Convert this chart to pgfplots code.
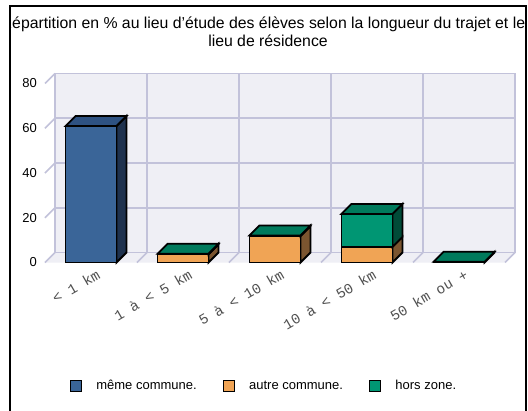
\documentclass[border=0pt]{standalone}
\usepackage{fontspec}
\setmainfont{Liberation Sans}
\newfontfamily\monofont{Liberation Mono}
\usepackage{pgfplots}
\pgfplotsset{compat=1.18}
\definecolor{blueF}{HTML}{3A6598}
\definecolor{blueT}{HTML}{2E5282}
\definecolor{blueS}{HTML}{1F324E}
\definecolor{orangeF}{HTML}{F0A455}
\definecolor{orangeS}{HTML}{7B5530}
\definecolor{greenF}{HTML}{009673}
\definecolor{greenT}{HTML}{007A5C}
\definecolor{greenS}{HTML}{004B38}
\definecolor{wall}{HTML}{EFEFF5}
\definecolor{gridc}{HTML}{C2C2DA}
\definecolor{labgray}{HTML}{505050}
\pgfplotsset{
  face/.style={draw=black, line width=1.8bp, forget plot, mark=none},
  gridl/.style={draw=gridc, line width=1.6bp, forget plot, mark=none, unbounded coords=jump},
}

\begin{document}
\begin{tikzpicture}
\useasboundingbox (0bp,0bp) rectangle (528bp,-411bp);
\fill[white] (0bp,0bp) rectangle (528bp,-411bp);
\begin{scope}
\clip (10.5bp,0bp) rectangle (525.3bp,-411bp);
\node[anchor=base, inner sep=0pt, font=\fontsize{15.8bp}{18bp}\selectfont] at (263bp,-28bp)
  {Répartition en \% au lieu d'étude des élèves selon la longueur du trajet et le};
\node[anchor=base, inner sep=0pt, font=\fontsize{15.8bp}{18bp}\selectfont] at (268bp,-46bp)
  {lieu de résidence};
\end{scope}
\draw[line width=2bp] (9.5bp,-411bp) -- (9.5bp,-5.7bp) -- (526.3bp,-5.7bp) -- (526.3bp,-411bp);

\begin{axis}[
  at={(45bp,-262.5bp)}, anchor=south west,
  scale only axis, width=470bp, height=189bp,
  xmin=-0.5, xmax=4.6087, ymin=0, ymax=84.469,
  clip=false,
  axis line style={draw=none},
  major tick length=0pt,
  xtick={0,1,2,3,4},
  xticklabels={< 1 km,1 à < 5 km,5 à < 10 km,10 à < 50 km,50 km ou +},
  ytick={0,20,40,60,80},
  /pgf/number format/assume math mode=true,
  yticklabel style={font=\fontsize{13bp}{15bp}\selectfont, anchor=east, inner sep=0pt, xshift=-8bp},
  xticklabel style={font=\monofont\fontsize{14.5bp}{16bp}\selectfont, text=labgray, inner sep=0pt,
    xshift=5bp, yshift=-6bp, rotate=30, anchor=north east},
  legend style={at={(0.466,-0.653)}, anchor=center, draw=none, fill=none,
    font=\fontsize{13bp}{15bp}\selectfont, legend columns=3,
    /tikz/every odd column/.append style={column sep=13bp},
    /tikz/every even column/.append style={column sep=24bp}},
  legend cell align=left,
  legend image code/.code={\fill[#1] (0bp,-5.5bp) rectangle (11bp,5.5bp);},
]
% back wall and floor
\addplot[forget plot, draw=none, fill=wall] coordinates {(-0.3913,4.469) (4.6087,4.469) (4.6087,84.469) (-0.3913,84.469)} -- cycle;
\addplot[forget plot, draw=none, fill=wall] coordinates {(-0.5,0) (4.5,0) (4.6087,4.469) (-0.3913,4.469)} -- cycle;
% grid on the back wall
\addplot[gridl] coordinates {
  (-0.3913,4.469) (4.6087,4.469) (0,nan)
  (-0.3913,24.469) (4.6087,24.469) (0,nan)
  (-0.3913,44.469) (4.6087,44.469) (0,nan)
  (-0.3913,64.469) (4.6087,64.469) (0,nan)
  (-0.3913,84.469) (4.6087,84.469) (0,nan)
  (-0.3913,4.469) (-0.3913,84.469) (0,nan)
  (0.6087,4.469) (0.6087,84.469) (0,nan)
  (1.6087,4.469) (1.6087,84.469) (0,nan)
  (2.6087,4.469) (2.6087,84.469) (0,nan)
  (3.6087,4.469) (3.6087,84.469) (0,nan)
  (4.6087,4.469) (4.6087,84.469)
};
% depth edges
\addplot[gridl] coordinates {
  (-0.5,0) (-0.3913,4.469) (0,nan)
  (-0.5,20) (-0.3913,24.469) (0,nan)
  (-0.5,40) (-0.3913,44.469) (0,nan)
  (-0.5,60) (-0.3913,64.469) (0,nan)
  (-0.5,80) (-0.3913,84.469) (0,nan)
  (0.5,0) (0.6087,4.469) (0,nan)
  (1.5,0) (1.6087,4.469) (0,nan)
  (2.5,0) (2.6087,4.469) (0,nan)
  (3.5,0) (3.6087,4.469) (0,nan)
  (4.5,0) (4.6087,4.469)
};
% < 1 km : même commune 61
\addplot[face, fill=blueS] coordinates {(0.277,0) (0.3857,4.469) (0.3857,65.469) (0.277,61)} -- cycle;
\addplot[face, fill=blueF] coordinates {(-0.277,0) (0.277,0) (0.277,61) (-0.277,61)} -- cycle;
\addplot[face, fill=blueT] coordinates {(-0.277,61) (0.277,61) (0.3857,65.469) (-0.1683,65.469)} -- cycle;
% 1 a < 5 km : autre commune 3.6, hors zone 0.3
\addplot[face, fill=orangeS] coordinates {(1.277,0) (1.3857,4.469) (1.3857,8.069) (1.277,3.6)} -- cycle;
\addplot[face, fill=orangeF] coordinates {(0.723,0) (1.277,0) (1.277,3.6) (0.723,3.6)} -- cycle;
\addplot[face, fill=greenS] coordinates {(1.277,3.6) (1.3857,8.069) (1.3857,8.369) (1.277,3.9)} -- cycle;
\addplot[face, fill=greenF] coordinates {(0.723,3.6) (1.277,3.6) (1.277,3.9) (0.723,3.9)} -- cycle;
\addplot[face, fill=greenT] coordinates {(0.723,3.9) (1.277,3.9) (1.3857,8.369) (0.8317,8.369)} -- cycle;
% 5 a < 10 km : autre commune 11.8, hors zone 0.3
\addplot[face, fill=orangeS] coordinates {(2.277,0) (2.3857,4.469) (2.3857,16.269) (2.277,11.8)} -- cycle;
\addplot[face, fill=orangeF] coordinates {(1.723,0) (2.277,0) (2.277,11.8) (1.723,11.8)} -- cycle;
\addplot[face, fill=greenS] coordinates {(2.277,11.8) (2.3857,16.269) (2.3857,16.569) (2.277,12.1)} -- cycle;
\addplot[face, fill=greenF] coordinates {(1.723,11.8) (2.277,11.8) (2.277,12.1) (1.723,12.1)} -- cycle;
\addplot[face, fill=greenT] coordinates {(1.723,12.1) (2.277,12.1) (2.3857,16.569) (1.8317,16.569)} -- cycle;
% 10 a < 50 km : autre commune 7, hors zone 14.7
\addplot[face, fill=orangeS] coordinates {(3.277,0) (3.3857,4.469) (3.3857,11.469) (3.277,7)} -- cycle;
\addplot[face, fill=orangeF] coordinates {(2.723,0) (3.277,0) (3.277,7) (2.723,7)} -- cycle;
\addplot[face, fill=greenS] coordinates {(3.277,7) (3.3857,11.469) (3.3857,26.169) (3.277,21.7)} -- cycle;
\addplot[face, fill=greenF] coordinates {(2.723,7) (3.277,7) (3.277,21.7) (2.723,21.7)} -- cycle;
\addplot[face, fill=greenT] coordinates {(2.723,21.7) (3.277,21.7) (3.3857,26.169) (2.8317,26.169)} -- cycle;
% 50 km ou + : hors zone 0.3
\addplot[face, fill=greenS] coordinates {(4.277,0) (4.3857,4.469) (4.3857,4.769) (4.277,0.3)} -- cycle;
\addplot[face, fill=greenF] coordinates {(3.723,0) (4.277,0) (4.277,0.3) (3.723,0.3)} -- cycle;
\addplot[face, fill=greenT] coordinates {(3.723,0.3) (4.277,0.3) (4.3857,4.769) (3.8317,4.769)} -- cycle;
% legend
\addlegendimage{fill=blueF}
\addlegendentry{même commune.}
\addlegendimage{fill=orangeF}
\addlegendentry{autre commune.}
\addlegendimage{fill=greenF}
\addlegendentry{hors zone.}
\end{axis}
\end{tikzpicture}
\end{document}
